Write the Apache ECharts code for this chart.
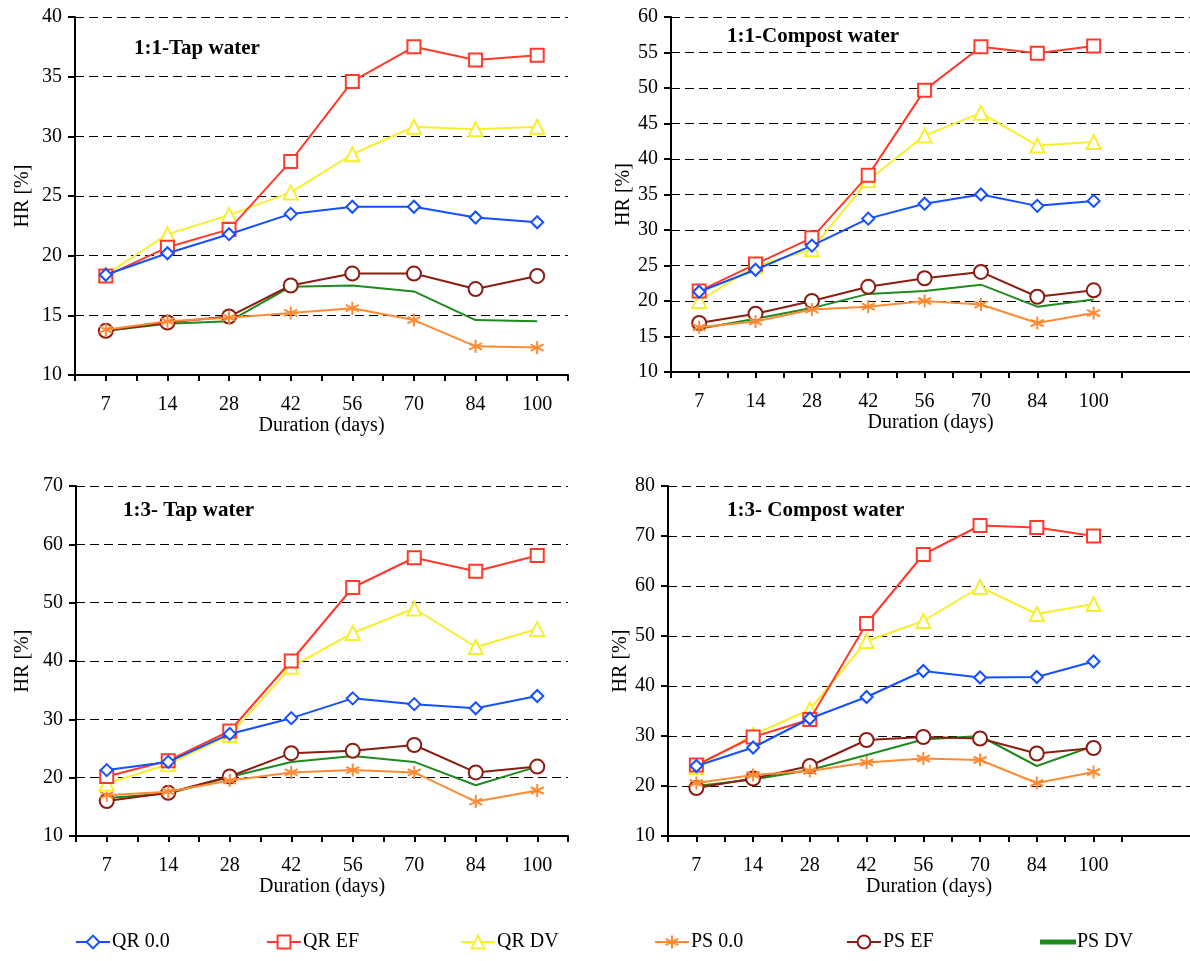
<!DOCTYPE html>
<html lang="en">
<head>
  <meta charset="utf-8">
  <title>HR vs duration</title>
  <script src="https://cdn.jsdelivr.net/npm/echarts@6/dist/echarts.min.js"></script>
  <style>
    html, body { margin: 0; padding: 0; background: #fff; }
    #chart { width: 1190px; height: 961px; }
  </style>
</head>
<body>
  <div id="chart"></div>
  <script>
    // x categories (days)
    const days = ['7', '14', '28', '42', '56', '70', '84', '100'];
    const names = ['QR 0.0', 'QR EF', 'QR DV', 'PS 0.0', 'PS EF', 'PS DV'];

    // HR [%] per series, order as in names
    const tap11 = [
      [18.4, 20.2, 21.8, 23.5, 24.1, 24.1, 23.2, 22.8],
      [18.3, 20.7, 22.2, 27.9, 34.6, 37.5, 36.4, 36.8],
      [18.4, 21.8, 23.4, 25.3, 28.5, 30.8, 30.6, 30.8],
      [13.8, 14.5, 14.8, 15.2, 15.6, 14.6, 12.4, 12.3],
      [13.7, 14.4, 14.9, 17.5, 18.5, 18.5, 17.2, 18.3],
      [13.7, 14.3, 14.5, 17.4, 17.5, 17.0, 14.6, 14.5]
    ];
    const compost11 = [
      [21.3, 24.4, 27.8, 31.6, 33.7, 35.0, 33.4, 34.1],
      [21.4, 25.2, 28.9, 37.7, 49.7, 55.8, 54.9, 55.9],
      [20.0, 24.9, 27.3, 37.0, 43.3, 46.5, 41.9, 42.4],
      [16.3, 17.1, 18.8, 19.2, 20.0, 19.5, 16.9, 18.3],
      [16.9, 18.2, 20.0, 22.0, 23.2, 24.1, 20.6, 21.5],
      [16.1, 17.5, 19.0, 21.0, 21.4, 22.3, 19.2, 20.2]
    ];
    const tap13 = [
      [21.3, 22.7, 27.5, 30.2, 33.6, 32.6, 31.9, 34.0],
      [20.2, 22.9, 28.0, 40.0, 52.6, 57.7, 55.4, 58.1],
      [19.0, 22.3, 27.3, 39.0, 44.8, 49.0, 42.4, 45.5],
      [17.0, 17.6, 19.5, 20.9, 21.3, 20.9, 15.9, 17.8],
      [16.0, 17.4, 20.2, 24.2, 24.6, 25.6, 20.9, 21.9],
      [16.5, 17.3, 20.1, 22.7, 23.7, 22.7, 18.7, 21.9]
    ];
    const compost13 = [
      [24.0, 27.7, 33.5, 37.8, 43.0, 41.7, 41.8, 44.9],
      [24.2, 29.8, 33.3, 52.5, 66.3, 72.1, 71.7, 70.0],
      [23.8, 30.2, 35.3, 49.0, 53.0, 59.8, 54.4, 56.4],
      [20.6, 22.2, 23.0, 24.7, 25.5, 25.2, 20.6, 22.8],
      [19.6, 21.5, 24.0, 29.2, 29.8, 29.5, 26.5, 27.6],
      [20.0, 21.3, 23.2, 26.2, 29.3, 30.0, 24.0, 28.0]
    ];

    const titles = ['1:1-Tap water', '1:1-Compost water', '1:3- Tap water', '1:3- Compost water'];
    const yMax = [40, 60, 70, 80];
    const yStep = [5, 5, 10, 10];

    const font = '"Liberation Serif", "Times New Roman", serif';
    const colors = ['#1450ff', '#ff3a2a', '#f7ef2e', '#ff8a33', '#8c1d12', '#1f8a1f'];
    const asterisk = 'path://M5,0L5,10M0.7,2.5L9.3,7.5M9.3,2.5L0.7,7.5';
    const symbols = ['emptyDiamond', 'emptyRect', 'emptyTriangle', asterisk, 'emptyCircle', 'none'];
    const symSize = [12, 13, 14, 13, 14, 0];

    // panel layout
    const panels = [
      { data: tap11, grid: { left: 75, top: 17, width: 493, height: 358 }, xMax: 8, nameGap: 42, title: [134, 38] },
      { data: compost11, grid: { left: 671, top: 17, right: 0, height: 355 }, xMax: 9.21, nameGap: 35, title: [727, 26] },
      { data: tap13, grid: { left: 76, top: 486, width: 492, height: 350 }, xMax: 8, nameGap: 43, title: [123, 500] },
      { data: compost13, grid: { left: 668, top: 486, right: 0, height: 350 }, xMax: 9.2, nameGap: 36, title: [727, 500] }
    ];

    const halfTicks = [];
    for (let i = 0; i <= 16; i++) halfTicks.push(i / 2);
    const labelPos = days.map((d, i) => i + 0.5);

    const chart = echarts.init(document.getElementById('chart'));
    const option = {
      backgroundColor: '#fff',
      animation: false,
      textStyle: { fontFamily: font },
      title: [],
      grid: [],
      xAxis: [],
      yAxis: [],
      series: [],
      legend: []
    };

    panels.forEach((p, k) => {
      option.grid.push(p.grid);
      option.title.push({
        text: titles[k], left: p.title[0], top: p.title[1], padding: 0,
        textStyle: { fontFamily: font, fontWeight: 'bold', fontSize: 21, color: '#000' }
      });
      option.xAxis.push({
        type: 'value', gridIndex: k, min: 0, max: p.xMax,
        name: 'Duration (days)', nameLocation: 'middle', nameGap: 40,
        nameTextStyle: { fontFamily: font, fontSize: 20, color: '#000' },
        axisLine: { lineStyle: { color: '#000', width: 2 } },
        axisTick: { customValues: halfTicks, length: 6, lineStyle: { color: '#000', width: 2 } },
        axisLabel: {
          customValues: labelPos, margin: 20, fontFamily: font, fontSize: 20, color: '#000',
          formatter: v => days[Math.round(v - 0.5)]
        },
        splitLine: { show: false }
      });
      option.yAxis.push({
        type: 'value', gridIndex: k, min: 10, max: yMax[k], interval: yStep[k],
        name: 'HR [%]', nameLocation: 'middle', nameGap: p.nameGap,
        nameTextStyle: { fontFamily: font, fontSize: 20, color: '#000' },
        axisLine: { show: true, lineStyle: { color: '#000', width: 2 } },
        axisTick: { show: true, length: 7, lineStyle: { color: '#000', width: 2 } },
        axisLabel: { margin: 13, fontFamily: font, fontSize: 20, color: '#000' },
        splitLine: { show: true, lineStyle: { color: '#000', width: 1, type: [9, 5] } }
      });
      names.forEach((n, s) => {
        option.series.push({
          name: n, type: 'line', xAxisIndex: k, yAxisIndex: k,
          data: p.data[s].map((v, i) => [i + 0.5, v]),
          symbol: symbols[s], symbolSize: symSize[s], showSymbol: symbols[s] !== 'none',
          lineStyle: { color: colors[s], width: 2 },
          itemStyle: { color: colors[s], borderColor: colors[s], borderWidth: 2 },
          z: 10 - s
        });
      });
    });

    // one legend per entry, evenly spaced along the bottom
    const legendLeft = [75, 266, 460, 654, 846, 1040];
    names.forEach((n, s) => {
      const item = s === 5 ? { name: n, icon: 'rect', itemStyle: { color: colors[s] } } : n;
      option.legend.push({
        data: [item], left: legendLeft[s], top: 932, padding: 0,
        itemWidth: 34, itemHeight: s === 5 ? 3 : 16, itemGap: 0,
        textStyle: { fontFamily: font, fontSize: 20, color: '#000', padding: [0, 0, 0, -3] }
      });
    });

    chart.setOption(option);
    window.onresize = function () { chart.resize(); };
  </script>
</body>
</html>
